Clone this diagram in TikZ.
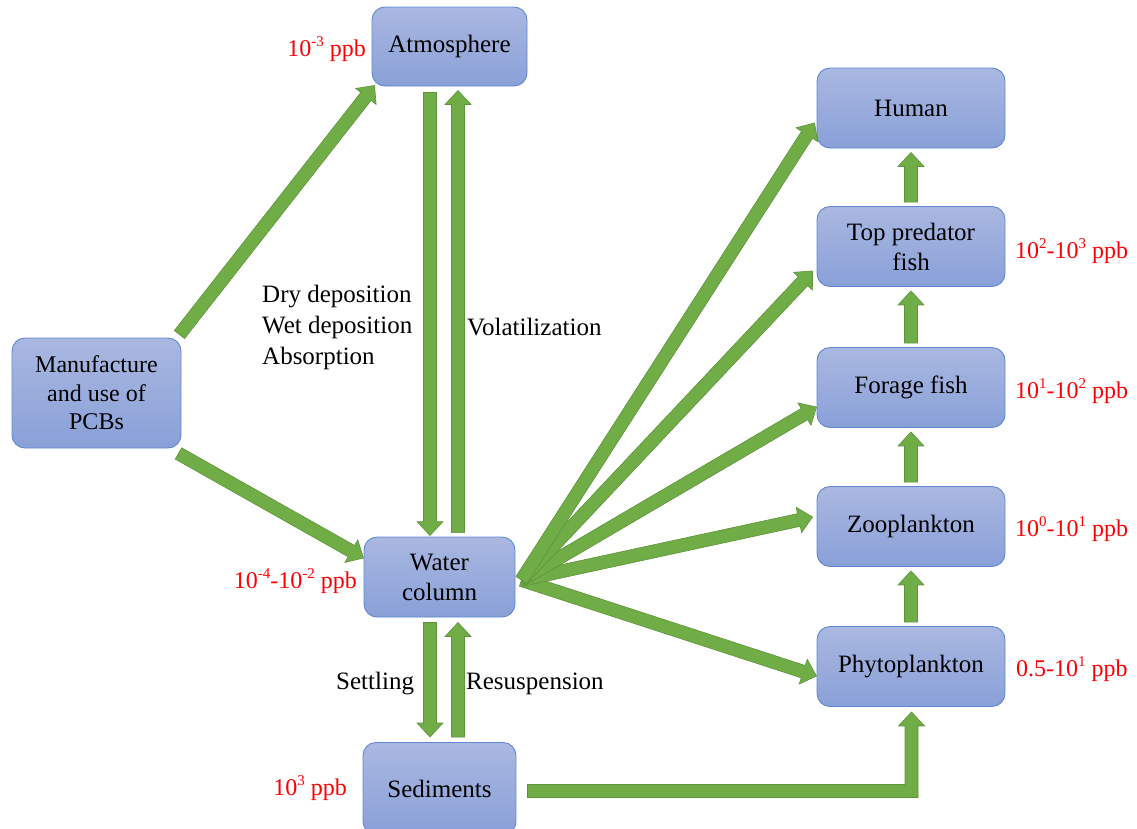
\documentclass[tikz,border=0pt]{standalone}
\usepackage{fontspec}
\newfontfamily\tnr{Liberation Serif}
\usetikzlibrary{calc}
\definecolor{boxtop}{RGB}{170,184,225}
\definecolor{boxbot}{RGB}{137,160,216}
\definecolor{boxline}{RGB}{95,135,210}
\definecolor{arrfill}{RGB}{112,173,71}
\definecolor{arrline}{RGB}{94,148,58}
\newcommand\sps[1]{\raisebox{0.45em}{\tnr\fontsize{15}{15}\selectfont #1}}
\tikzset{
 box/.style={draw=boxline, line width=0.9pt, rounded corners=13pt, top color=boxtop, bottom color=boxbot,
   minimum width=188pt, minimum height=80pt, inner sep=0pt, align=center, font=\fontsize{25}{30}\selectfont},
 conc/.style={text=red, font=\fontsize{24}{28}\selectfont, inner sep=0pt},
 lab/.style={font=\fontsize{25}{31}\selectfont, inner sep=0pt, align=left},
 barrowst/.style={fill=arrfill, draw=arrline, line width=0.6pt, line join=miter}
}
\newcommand\blockarr[2]{%
  \path let \p1=(#1),\p2=(#2),\n1={atan2(\y2-\y1,\x2-\x1)},\n2={veclen(\x2-\x1,\y2-\y1)} in
    \pgfextra{\xdef\bA{\n1}\xdef\bL{\n2}\xdef\bX{\x1}\xdef\bY{\y1}};
  \begin{scope}[shift={(\bX,\bY)},rotate=\bA]
    \draw[barrowst] (0pt,-6.5pt) -- ({\bL-14pt},-6.5pt) -- ({\bL-14pt},-13pt) -- (\bL,0pt)
      -- ({\bL-14pt},13pt) -- ({\bL-14pt},6.5pt) -- (0pt,6.5pt) -- cycle;
  \end{scope}}
\begin{document}
\begin{tikzpicture}[x=1pt,y=-1pt]
\useasboundingbox (0,0) rectangle (1137,828);
% boxes
\node[box, minimum width=155pt, minimum height=79pt] (atm) at (449.5,46.5) {\tnr Atmosphere};
\node[box, minimum width=169pt, minimum height=110pt, font=\fontsize{24}{28.5}\selectfont] (man) at (96.5,393) {\tnr Manufacture\\\tnr and use of\\\tnr PCBs};
\node[box, minimum width=151pt, minimum height=80pt] (wat) at (439.5,577) {\tnr Water\\\tnr column};
\node[box, minimum width=153pt, minimum height=92pt, anchor=north] (sed) at (439.5,742) {\tnr Sediments};
\node[box] (hum) at (911,108) {\tnr Human};
\node[box] (top) at (911,246.5) {\tnr Top predator\\\tnr fish};
\node[box] (for) at (911,387.5) {\tnr Forage fish};
\node[box] (zoo) at (911,526.5) {\tnr Zooplankton};
\node[box] (phy) at (911,666.5) {\tnr Phytoplankton};
% arrow end points
\coordinate (ma1) at ($(man.north east)+(-2,-3)$);
\coordinate (ma2) at ($(atm.south west)+(3,-1)$);
\coordinate (mw1) at ($(man.south east)+(-3,5)$);
\coordinate (mw2) at ($(wat.west)+(0,-19)$);
\coordinate (dn1) at ($(atm.south)+(-19.5,6)$);
\coordinate (dn2) at ($(wat.north)+(-9.5,-1)$);
\coordinate (up1) at ($(wat.north)+(18.5,-4)$);
\coordinate (up2) at ($(atm.south)+(8.5,4)$);
\coordinate (st1) at ($(wat.south)+(-9.5,5)$);
\coordinate (st2) at ($(sed.north)+(-9.5,-5)$);
\coordinate (rs1) at ($(sed.north)+(18.5,-5)$);
\coordinate (rs2) at ($(wat.south)+(18.5,5)$);
\coordinate (fan) at ($(wat.east)+(6,3)$);
\coordinate (fh) at ($(hum.west)+(-2,15)$);
\coordinate (ft) at ($(top.west)+(-4,24.5)$);
\coordinate (ff) at ($(for.west)+(0,19.5)$);
\coordinate (fz) at ($(zoo.west)+(-4,-9.5)$);
\coordinate (fp) at ($(phy.west)+(0,9.5)$);
\coordinate (v1a) at ($(top.north)+(0,-4)$);
\coordinate (v1b) at ($(hum.south)+(0,4)$);
\coordinate (v2a) at ($(for.north)+(0,-4)$);
\coordinate (v2b) at ($(top.south)+(0,4)$);
\coordinate (v3a) at ($(zoo.north)+(0,-4)$);
\coordinate (v3b) at ($(for.south)+(0,4)$);
\coordinate (v4a) at ($(phy.north)+(0,-4)$);
\coordinate (v4b) at ($(zoo.south)+(0,4)$);
\coordinate (el1) at ($(sed.east)+(11,2.5)$);
\coordinate (el2) at ($(phy.south)+(0.5,5)$);
% arrows
\blockarr{ma1}{ma2}
\blockarr{mw1}{mw2}
\blockarr{dn1}{dn2}
\blockarr{up1}{up2}
\blockarr{st1}{st2}
\blockarr{rs1}{rs2}
\blockarr{fan}{fp}
\blockarr{fan}{fz}
\blockarr{fan}{ff}
\blockarr{fan}{ft}
\blockarr{fan}{fh}
\blockarr{v1a}{v1b}
\blockarr{v2a}{v2b}
\blockarr{v3a}{v3b}
\blockarr{v4a}{v4b}
\draw[barrowst] let \p1=(el1), \p2=(el2) in
  (\x1,{\y1-6.5pt}) -- ({\x2+6.5pt},{\y1-6.5pt}) -- ({\x2+6.5pt},{\y2-14pt}) -- ({\x2+13pt},{\y2-14pt})
  -- (\x2,\y2) -- ({\x2-13pt},{\y2-14pt}) -- ({\x2-6.5pt},{\y2-14pt}) -- ({\x2-6.5pt},{\y1+6.5pt})
  -- (\x1,{\y1+6.5pt}) -- cycle;
% labels
\node[conc, anchor=east] (catm) at (366,49) {\tnr 10\sps{-3} ppb};
\node[conc, anchor=east] (cwat) at (357,581) {\tnr 10\sps{-4}-10\sps{-2} ppb};
\node[conc, anchor=east] (csed) at (347,788) {\tnr 10\sps{3} ppb};
\node[conc, anchor=west] (ctop) at (1015,251) {\tnr 10\sps{2}-10\sps{3} ppb};
\node[conc, anchor=west] (cfor) at (1015,391) {\tnr 10\sps{1}-10\sps{2} ppb};
\node[conc, anchor=west] (czoo) at (1015,529) {\tnr 10\sps{0}-10\sps{1} ppb};
\node[conc, anchor=west] (cphy) at (1016,669) {\tnr 0.5-10\sps{1} ppb};
\node[lab, anchor=west] (ldep) at (262,327) {\tnr Dry deposition\\\tnr Wet deposition\\\tnr Absorption};
\node[lab, anchor=west] (lvol) at (467,327) {\tnr Volatilization};
\node[lab, anchor=west] (lset) at (336,684) {\tnr Settling};
\node[lab, anchor=west] (lres) at (466,684) {\tnr Resuspension};
\end{tikzpicture}
\end{document}
